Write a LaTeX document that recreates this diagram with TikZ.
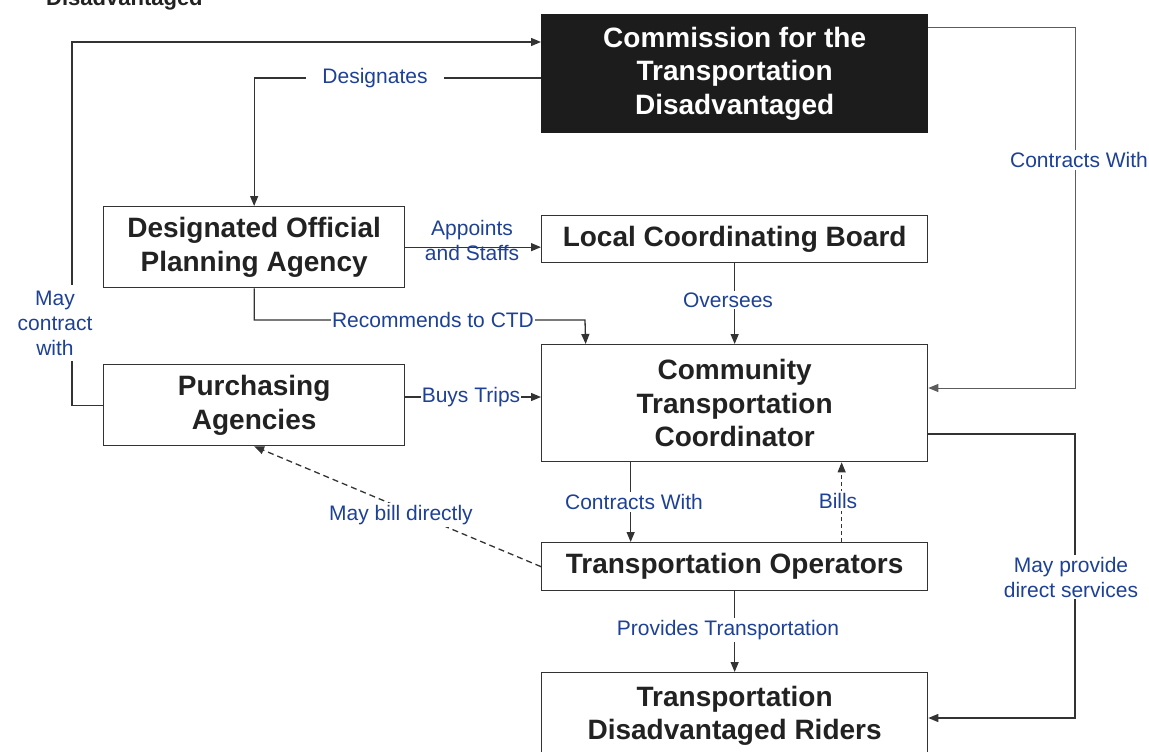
\documentclass[tikz,border=0pt]{standalone}
\usepackage{fontspec}
\setmainfont{Liberation Sans}
\usetikzlibrary{arrows.meta}
\definecolor{linec}{HTML}{333333}
\definecolor{boxtext}{HTML}{222222}
\definecolor{lblblue}{RGB}{30,65,150}
\definecolor{darkfill}{HTML}{1C1C1C}
\begin{document}
\begin{tikzpicture}[x=1pt,y=-1pt,
  box/.style={draw=linec, line width=1.3pt, fill=white, text=boxtext,
    font=\bfseries\fontsize{28}{33.5}\selectfont, align=center,
    inner sep=0pt, anchor=north west},
  lbl/.style={text=lblblue, fill=white, font=\fontsize{21}{25}\selectfont,
    align=center, inner xsep=1pt, inner ysep=2pt},
  conn/.style={draw=linec, line width=1.3pt,
    -{Triangle[length=10pt,width=8pt]}},
  dconn/.style={conn, dash pattern=on 6pt off 4pt},
]
\useasboundingbox (0,0) rectangle (1149,752);

% heading line above the chart (mostly off the page)
\node[font=\bfseries\fontsize{22}{22}\selectfont, text=boxtext,
  anchor=base west, inner sep=0pt] (hdr) at (46,6) {Disadvantaged};

% boxes
\node[box, fill=darkfill, draw=darkfill, text=white,
  minimum width=386pt, minimum height=118pt] (ctd) at (541,14)
  {Commission for the\\Transportation\\Disadvantaged};
\node[box, minimum width=301pt, minimum height=81pt] (dopa) at (103,206)
  {Designated Official\\Planning Agency};
\node[box, minimum width=386pt, minimum height=47pt] (lcb) at (541,215)
  {Local Coordinating Board};
\node[box, minimum width=386pt, minimum height=117pt] (ctc) at (541,344)
  {Community\\Transportation\\Coordinator};
\node[box, minimum width=301pt, minimum height=81pt] (pa) at (103,364)
  {Purchasing\\Agencies};
\node[box, minimum width=386pt, minimum height=48pt] (to) at (541,542)
  {Transportation Operators};
\node[box, minimum width=386pt, minimum height=86pt] (tdr) at (541,672)
  {Transportation\\Disadvantaged Riders};

% connectors
\draw[conn] (pa.west) -- ++(-31,0) |- (ctd.west |- 0,42);
\draw[conn] (ctd.west |- 0,78) -| (dopa.north);
\draw[conn] (dopa.east) -- (dopa.east -| lcb.west);
\draw[conn] (dopa.south) |- (585,320) -- ([xshift=-149pt]ctc.north);
\draw[conn] (lcb.south) -- (ctc.north);
\draw[conn, line width=1pt, draw=linec!80] (ctd.east |- 0,28) -- (1075,28) |- (ctc.east |- 0,388);
\draw[conn] (pa.east |- 0,397) -- (ctc.west |- 0,397);
\draw[dconn] (to.west) -- (pa.south);
\draw[conn] ([xshift=-104pt]ctc.south) -- ([xshift=-104pt]to.north);
\draw[dconn, line width=1pt, dash pattern=on 4pt off 3pt] ([xshift=107pt]to.north) -- ([xshift=107pt]ctc.south);
\draw[conn] (to.south) -- (tdr.north);
\draw[conn] (ctc.east |- 0,434) -- (1075,434) |- (tdr.east |- 0,718);

% connector labels
\node[lbl, inner ysep=6pt] (lMay) at (55,323) {May\\contract\\with};
\node[lbl, inner xsep=16pt] (lDes) at (375,78) {Designates};
\node[lbl, fill=none] (lApp) at (472,240) {Appoints\\and Staffs};
\node[lbl] (lRec) at (433,320) {Recommends to CTD};
\node[lbl] (lOver) at (728,300) {Oversees};
\node[lbl] (lCon1) at (1079,160) {Contracts With};
\node[lbl] (lBuy) at (471,397) {Buys Trips};
\node[lbl, inner xsep=3pt] (lBill) at (401,515) {May bill directly};
\node[lbl] (lCon2) at (634,502) {Contracts With};
\node[lbl] (lBills) at (838,501) {Bills};
\node[lbl] (lProv) at (728,630) {Provides Transportation};
\node[lbl] (lDir) at (1071,577) {May provide\\direct services};
\end{tikzpicture}
\end{document}
